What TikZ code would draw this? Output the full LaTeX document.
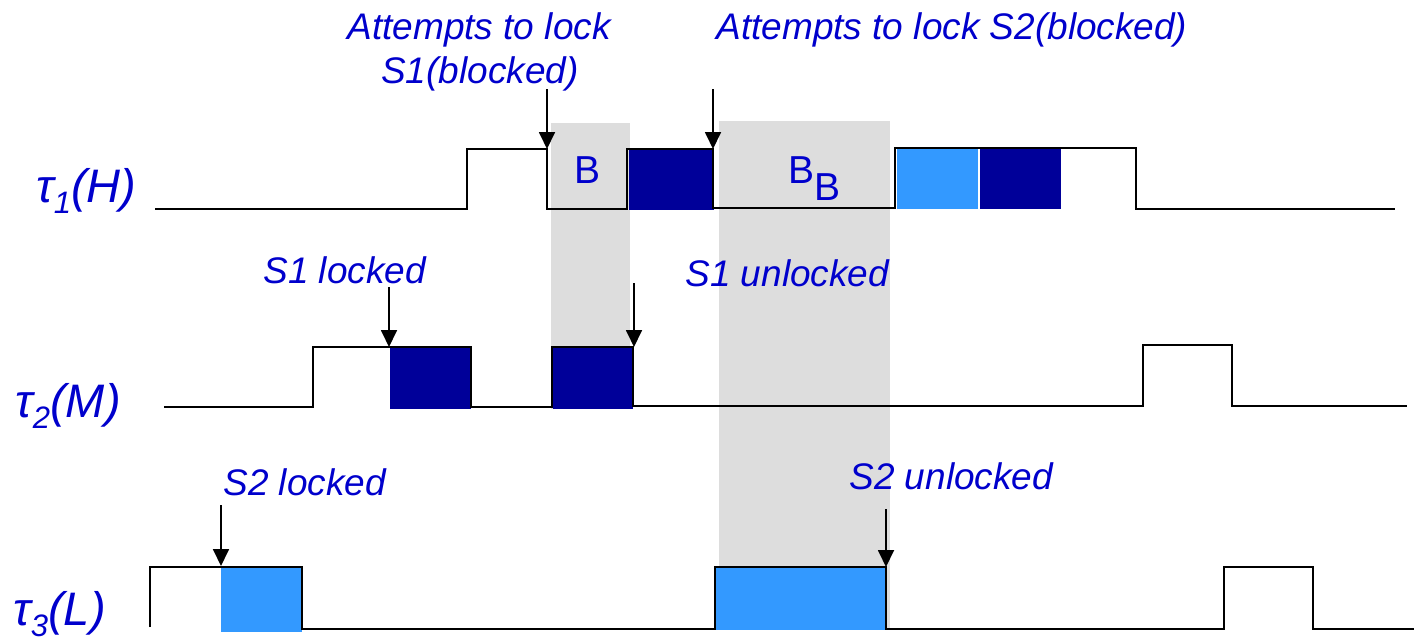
\documentclass[tikz,border=0pt]{standalone}
\usepackage{fontspec}
\setmainfont{Liberation Sans}
\usetikzlibrary{arrows.meta}
\definecolor{labelblue}{HTML}{0000CC}
\definecolor{navyfill}{HTML}{000099}
\definecolor{skyfill}{HTML}{3399FF}
\definecolor{shade}{HTML}{DDDDDD}
\tikzset{
  sig/.style={line width=1.3pt, black, line join=miter},
  marker/.style={line width=0.9pt, black, -{Triangle[width=8pt,length=8.5pt]}},
  note/.style={inner sep=0pt, text=labelblue, font=\fontsize{18.5}{21}\selectfont\itshape},
  task/.style={inner sep=0pt, text=labelblue, font=\fontsize{23.5}{27}\selectfont\itshape},
  blk/.style={inner sep=0pt, text=labelblue, font=\fontsize{19.5}{22}\selectfont},
  navybox/.style={fill=navyfill},
  skybox/.style={fill=skyfill},
  shadebox/.style={fill=shade},
}
\newcommand{\tasksub}[1]{{\fontsize{15.5}{15.5}\selectfont\raisebox{-5.5pt}{#1}}}
\begin{document}
\begin{tikzpicture}[x=0.5pt, y=-0.5pt]
  \useasboundingbox (0,0) rectangle (1414,638);

  % blocking intervals
  \fill[shadebox] (551,123) rectangle (630,409);
  \fill[shadebox] (719,121) rectangle (890,630);

  % execution inside critical sections
  \fill[navybox] (629,150) rectangle (714,210);
  \fill[skybox]  (897,149) rectangle (978,209);
  \fill[navybox] (980,149) rectangle (1061,209);

  \fill[navybox] (390,348) rectangle (471,409);
  \fill[navybox] (553,348) rectangle (633,409);

  \fill[skybox]  (221,568) rectangle (302,632);
  \fill[skybox]  (715,568) rectangle (886,630);

  % task timelines
  \draw[sig] (155,209) -- (467,209) -- (467,149) -- (547,149) -- (547,209)
    -- (627,209) -- (627,149) -- (713,149) -- (713,208) -- (895,208)
    -- (895,148) -- (1136,148) -- (1136,209) -- (1395,209);
  \draw[sig] (164,407) -- (313,407) -- (313,347) -- (471,347) -- (471,407)
    -- (552,407) -- (552,347) -- (633,347) -- (633,406) -- (1143,406)
    -- (1143,345) -- (1232,345) -- (1232,406) -- (1407,406);
  \draw[sig] (150,627) -- (150,567) -- (302,567) -- (302,629) -- (715,629)
    -- (715,567) -- (886,567) -- (886,629) -- (1224,629) -- (1224,567)
    -- (1313,567) -- (1313,629) -- (1414,629);

  % task names
  \node[task, anchor=base west] (t1) at (36,202) {τ\tasksub{1}(H)};
  \node[task, anchor=base west] (t2) at (15,417) {τ\tasksub{2}(M)};
  \node[task, anchor=base west] (t3) at (13,625) {τ\tasksub{3}(L)};

  % blocking marks
  \node[blk, anchor=base] (b1) at (588,183) {B};
  \node[blk, anchor=base west] (b2) at (788,183) {B\raisebox{-8.5pt}{B}};

  % event annotations
  \node[note, anchor=base] (n1a) at (479,39) {Attempts to lock};
  \node[note, anchor=base] (n1b) at (480,83) {S1(blocked)};
  \node[note, anchor=base west] (n2) at (716,39) {Attempts to lock S2(blocked)};
  \node[note, anchor=base west] (n3) at (263,283) {S1 locked};
  \node[note, anchor=base west] (n4) at (685,286) {S1 unlocked};
  \node[note, anchor=base west] (n5) at (223,495) {S2 locked};
  \node[note, anchor=base west] (n6) at (849,489) {S2 unlocked};

  % event markers
  \coordinate (m1s) at (547,89);  \coordinate (m1e) at (547,149);
  \coordinate (m2s) at (713,89);  \coordinate (m2e) at (713,149);
  \coordinate (m3s) at (389,287); \coordinate (m3e) at (389,347);
  \coordinate (m4s) at (634,283); \coordinate (m4e) at (634,347);
  \coordinate (m5s) at (221,505); \coordinate (m5e) at (221,566);
  \coordinate (m6s) at (886,509); \coordinate (m6e) at (886,567);
  \draw[marker] (m1s) -- (m1e);
  \draw[marker] (m2s) -- (m2e);
  \draw[marker] (m3s) -- (m3e);
  \draw[marker] (m4s) -- (m4e);
  \draw[marker] (m5s) -- (m5e);
  \draw[marker] (m6s) -- (m6e);
\end{tikzpicture}
\end{document}
